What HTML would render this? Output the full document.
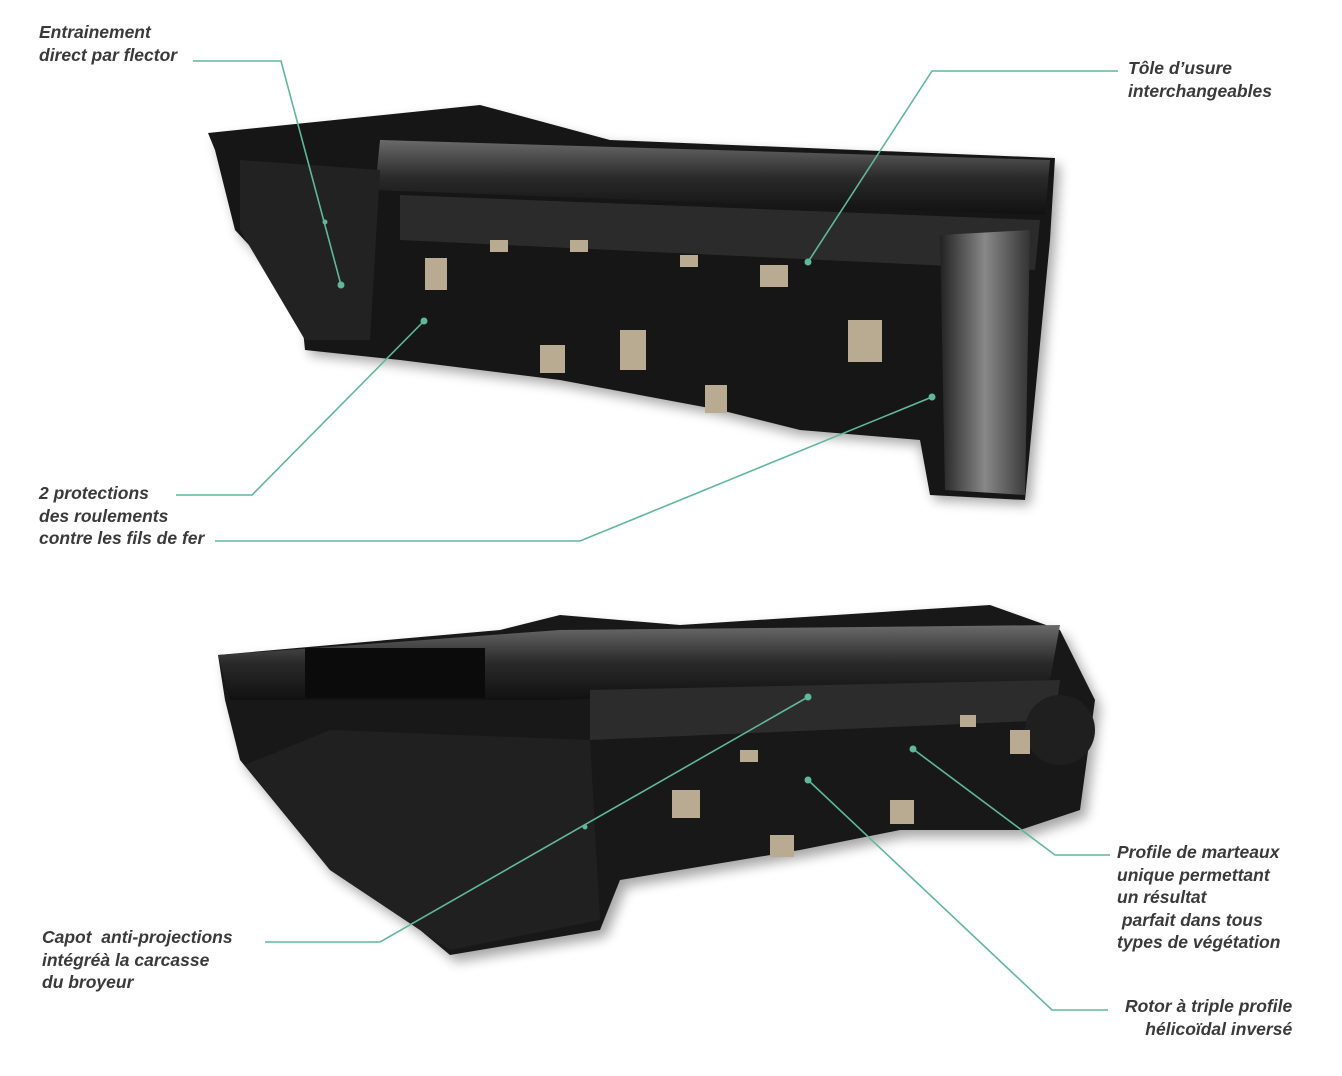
<!DOCTYPE html>
<html><head><meta charset="utf-8"><style>
html,body{margin:0;padding:0;background:#fff;}
body{width:1342px;height:1076px;position:relative;overflow:hidden;font-family:"Liberation Sans",sans-serif;}
.t{position:absolute;font-weight:bold;font-style:italic;font-size:17.5px;line-height:22.5px;color:#3a3a3a;white-space:pre;}
svg{position:absolute;left:0;top:0;}
</style></head><body>
<svg width="1342" height="1076" viewBox="0 0 1342 1076">
<defs>
<linearGradient id="g1" x1="0" y1="0" x2="0" y2="1"><stop offset="0" stop-color="#6a6a6a"/><stop offset="0.5" stop-color="#2a2a2a"/><stop offset="1" stop-color="#111"/></linearGradient>
<linearGradient id="g2" x1="0" y1="0" x2="1" y2="0"><stop offset="0" stop-color="#222"/><stop offset="0.5" stop-color="#888"/><stop offset="1" stop-color="#333"/></linearGradient>
<filter id="sh" x="-10%" y="-10%" width="120%" height="130%"><feGaussianBlur stdDeviation="6"/></filter>
</defs>
<polygon points="215,140 480,112 610,145 1060,165 1055,245 1030,505 935,500 920,445 800,435 720,415 560,385 400,365 310,355 305,305 240,235 220,155" fill="#000" opacity="0.35" filter="url(#sh)"/>
<polygon points="208,133 480,105 610,140 1055,158 1050,240 1025,500 930,495 920,440 800,430 720,410 560,380 400,360 305,350 300,300 235,230 215,150" fill="#161616"/>
<polygon points="380,140 1050,160 1045,215 375,190" fill="url(#g1)"/>
<polygon points="400,195 1040,220 1035,270 400,240" fill="#2b2b2b"/>
<polygon points="940,235 1030,230 1025,495 945,490" fill="url(#g2)"/>
<polygon points="240,160 380,170 370,340 305,340 240,230" fill="#222"/>
<g fill="#b9aa92">
<rect x="425" y="258" width="22" height="32"/><rect x="540" y="345" width="25" height="28"/><rect x="620" y="330" width="26" height="40"/><rect x="705" y="385" width="22" height="28"/><rect x="760" y="265" width="28" height="22"/><rect x="848" y="320" width="34" height="42"/><rect x="490" y="240" width="18" height="12"/><rect x="570" y="240" width="18" height="12"/><rect x="680" y="255" width="18" height="12"/>
</g>
<polygon points="224,662 500,637 560,622 680,632 990,612 1066,637 1100,707 1086,817 1026,837 906,837 806,857 626,887 606,937 456,962 426,937 336,877 246,767 231,707" fill="#000" opacity="0.35" filter="url(#sh)"/>
<polygon points="218,655 500,630 560,615 680,625 990,605 1060,630 1095,700 1080,810 1020,830 900,830 800,850 620,880 600,930 450,955 420,930 330,870 240,760 225,700" fill="#181818"/>
<polygon points="218,655 560,630 1060,625 1050,680 560,700 230,700" fill="url(#g1)"/>
<rect x="305" y="648" width="180" height="50" fill="#0b0b0b"/>
<polygon points="590,690 1060,680 1055,720 590,740" fill="#2c2c2c"/>
<polygon points="330,730 590,740 600,920 450,950 330,870 245,765" fill="#202020"/>
<circle cx="1060" cy="730" r="35" fill="#1f1f1f"/>
<g fill="#b9aa92">
<rect x="672" y="790" width="28" height="28"/><rect x="770" y="835" width="24" height="22"/><rect x="890" y="800" width="24" height="24"/><rect x="1010" y="730" width="20" height="24"/><rect x="740" y="750" width="18" height="12"/><rect x="960" y="715" width="16" height="12"/>
</g>
<g stroke="#5fb89a" stroke-width="1.6" fill="none">
<polyline points="193,61 281,61 341,285"/>
<polyline points="1118,71 932,71 808,262"/>
<polyline points="176,495 252,495 424,321"/>
<polyline points="215,541 580,541 932,397"/>
<polyline points="265,942 380,942 808,697"/>
<polyline points="1110,855 1055,855 913,749"/>
<polyline points="1108,1010 1052,1010 808,780"/>
</g>
<g fill="#5fb89a">
<circle cx="341" cy="285" r="3.5"/><circle cx="325" cy="222" r="2.5"/><circle cx="808" cy="262" r="3.5"/><circle cx="424" cy="321" r="3.5"/><circle cx="932" cy="397" r="3.5"/><circle cx="808" cy="697" r="3.5"/><circle cx="585" cy="827" r="2.5"/><circle cx="913" cy="749" r="3.5"/><circle cx="808" cy="780" r="3.5"/>
</g>
</svg>
<div class="t" style="left:39px;top:21px;">Entrainement
direct par flector</div>
<div class="t" style="left:1128px;top:57px;">Tôle d’usure
interchangeables</div>
<div class="t" style="left:39px;top:482px;">2 protections
des roulements
contre les fils de fer</div>
<div class="t" style="left:42px;top:926px;">Capot  anti-projections
intégréà la carcasse
du broyeur</div>
<div class="t" style="left:1117px;top:841px;">Profile de marteaux
unique permettant
un résultat
 parfait dans tous
types de végétation</div>
<div class="t" style="left:1121px;top:995px;text-align:right;">Rotor à triple profile
     hélicoïdal inversé</div>
</body></html>
